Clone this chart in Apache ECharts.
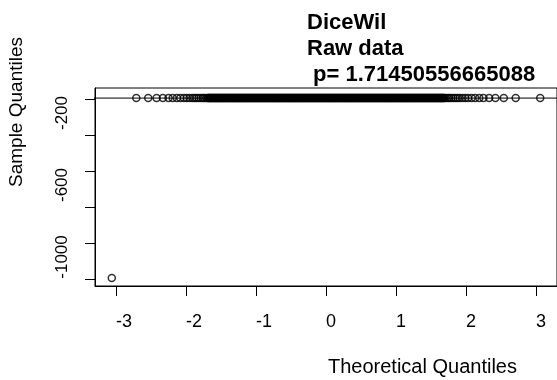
<!DOCTYPE html>
<html>
<head>
<meta charset="utf-8">
<script src="https://cdn.jsdelivr.net/npm/echarts@6/dist/echarts.min.js"></script>
<style>
html, body { margin: 0; padding: 0; background: #fff; }
#qq { width: 557px; height: 380px; }
</style>
</head>
<body>
<div id="qq"></div>
<script>
var chart_qq = echarts.init(document.getElementById('qq'));

// the one low point, bottom left
var outlierX = -3.06;
var outlierY = -1195;

// theoretical quantiles of the other points (all sit on the same sample value)
var tailLeftX = [-2.71, -2.54, -2.42, -2.33, -2.25, -2.19, -2.13, -2.08, -2.03, -1.99,
    -1.95, -1.91, -1.88, -1.85, -1.82, -1.79, -1.76, -1.74, -1.71];
var bandX = [
    -1.69, -1.68, -1.67, -1.66, -1.65, -1.64, -1.63, -1.62, -1.61, -1.60,
    -1.59, -1.58, -1.57, -1.56, -1.55, -1.54, -1.53, -1.52, -1.51, -1.50,
    -1.49, -1.48, -1.47, -1.46, -1.45, -1.44, -1.43, -1.42, -1.41, -1.40,
    -1.39, -1.38, -1.37, -1.36, -1.35, -1.34, -1.33, -1.32, -1.31, -1.30,
    -1.29, -1.28, -1.27, -1.26, -1.25, -1.24, -1.23, -1.22, -1.21, -1.20,
    -1.19, -1.18, -1.17, -1.16, -1.15, -1.14, -1.13, -1.12, -1.11, -1.10,
    -1.09, -1.08, -1.07, -1.06, -1.05, -1.04, -1.03, -1.02, -1.01, -1.00,
    -0.99, -0.98, -0.97, -0.96, -0.95, -0.94, -0.93, -0.92, -0.91, -0.90,
    -0.89, -0.88, -0.87, -0.86, -0.85, -0.84, -0.83, -0.82, -0.81, -0.80,
    -0.79, -0.78, -0.77, -0.76, -0.75, -0.74, -0.73, -0.72, -0.71, -0.70,
    -0.69, -0.68, -0.67, -0.66, -0.65, -0.64, -0.63, -0.62, -0.61, -0.60,
    -0.59, -0.58, -0.57, -0.56, -0.55, -0.54, -0.53, -0.52, -0.51, -0.50,
    -0.49, -0.48, -0.47, -0.46, -0.45, -0.44, -0.43, -0.42, -0.41, -0.40,
    -0.39, -0.38, -0.37, -0.36, -0.35, -0.34, -0.33, -0.32, -0.31, -0.30,
    -0.29, -0.28, -0.27, -0.26, -0.25, -0.24, -0.23, -0.22, -0.21, -0.20,
    -0.19, -0.18, -0.17, -0.16, -0.15, -0.14, -0.13, -0.12, -0.11, -0.10,
    -0.09, -0.08, -0.07, -0.06, -0.05, -0.04, -0.03, -0.02, -0.01, 0.00,
    0.01, 0.02, 0.03, 0.04, 0.05, 0.06, 0.07, 0.08, 0.09, 0.10,
    0.11, 0.12, 0.13, 0.14, 0.15, 0.16, 0.17, 0.18, 0.19, 0.20,
    0.21, 0.22, 0.23, 0.24, 0.25, 0.26, 0.27, 0.28, 0.29, 0.30,
    0.31, 0.32, 0.33, 0.34, 0.35, 0.36, 0.37, 0.38, 0.39, 0.40,
    0.41, 0.42, 0.43, 0.44, 0.45, 0.46, 0.47, 0.48, 0.49, 0.50,
    0.51, 0.52, 0.53, 0.54, 0.55, 0.56, 0.57, 0.58, 0.59, 0.60,
    0.61, 0.62, 0.63, 0.64, 0.65, 0.66, 0.67, 0.68, 0.69, 0.70,
    0.71, 0.72, 0.73, 0.74, 0.75, 0.76, 0.77, 0.78, 0.79, 0.80,
    0.81, 0.82, 0.83, 0.84, 0.85, 0.86, 0.87, 0.88, 0.89, 0.90,
    0.91, 0.92, 0.93, 0.94, 0.95, 0.96, 0.97, 0.98, 0.99, 1.00,
    1.01, 1.02, 1.03, 1.04, 1.05, 1.06, 1.07, 1.08, 1.09, 1.10,
    1.11, 1.12, 1.13, 1.14, 1.15, 1.16, 1.17, 1.18, 1.19, 1.20,
    1.21, 1.22, 1.23, 1.24, 1.25, 1.26, 1.27, 1.28, 1.29, 1.30,
    1.31, 1.32, 1.33, 1.34, 1.35, 1.36, 1.37, 1.38, 1.39, 1.40,
    1.41, 1.42, 1.43, 1.44, 1.45, 1.46, 1.47, 1.48, 1.49, 1.50,
    1.51, 1.52, 1.53, 1.54, 1.55, 1.56, 1.57, 1.58, 1.59, 1.60,
    1.61, 1.62, 1.63, 1.64, 1.65, 1.66, 1.67, 1.68, 1.69];
var tailRightX = [1.71, 1.74, 1.76, 1.79, 1.82, 1.85, 1.88, 1.91, 1.95, 1.99,
    2.03, 2.08, 2.13, 2.19, 2.25, 2.33, 2.42, 2.54, 2.71, 3.06];
var bulkY = -195;

// reference line through the quartiles
var qqLineX = [-3.4, 3.4];
var qqLineY = [-195, -195];

var xTicks = [-3, -2, -1, 0, 1, 2, 3];
var yTicks = [-1200, -1000, -800, -600, -400, -200];
var yTickLabels = [-1000, -600, -200];

var titleText = 'DiceWil\nRaw data\n p= 1.71450556665088';

var fontFam = '"Liberation Sans", Arial, sans-serif';

function qq_points() {
    var pts = [[outlierX, outlierY]];
    var allX = tailLeftX.concat(bandX, tailRightX);
    for (var i = 0; i < allX.length; i++) {
        pts.push([allX[i], bulkY]);
    }
    return pts;
}

function qq_line() {
    var pts = [];
    for (var i = 0; i < qqLineX.length; i++) {
        pts.push([qqLineX[i], qqLineY[i]]);
    }
    return pts;
}

var option_qq = {
    animation: false,
    backgroundColor: '#fff',
    title: {
        text: titleText,
        left: 307,
        top: 10,
        padding: 0,
        textStyle: {
            fontFamily: fontFam,
            fontSize: 22,
            fontWeight: 'bold',
            lineHeight: 26,
            color: '#000'
        }
    },
    grid: {
        left: 95,
        top: 88,
        right: -2,
        bottom: 94,
        show: true,
        borderColor: '#000',
        borderWidth: 1,
        backgroundColor: 'transparent'
    },
    xAxis: {
        type: 'value',
        min: -3.3,
        max: 3.3,
        axisLine: { show: true, onZero: false, lineStyle: { color: '#000', width: 1 } },
        axisTick: { show: true, length: 10, customValues: xTicks, lineStyle: { color: '#000' } },
        axisLabel: {
            customValues: xTicks,
            margin: 27,
            align: 'left',
            color: '#000',
            fontFamily: fontFam,
            fontSize: 18
        },
        splitLine: { show: false }
    },
    yAxis: {
        type: 'value',
        min: -1239,
        max: -139,
        axisLine: { show: true, onZero: false, lineStyle: { color: '#000', width: 1 } },
        axisTick: { show: true, length: 10, customValues: yTicks, lineStyle: { color: '#000' } },
        axisLabel: {
            customValues: yTickLabels,
            formatter: function (v) { return String(v); },
            rotate: 90,
            margin: 24,
            padding: [0, 28, 0, 0],
            color: '#000',
            fontFamily: fontFam,
            fontSize: 17
        },
        splitLine: { show: false }
    },
    graphic: [
        {
            type: 'text',
            x: 328,
            y: 357,
            style: {
                text: 'Theoretical Quantiles',
                fill: '#000',
                font: '20px ' + fontFam,
                align: 'left',
                verticalAlign: 'top'
            }
        },
        {
            type: 'text',
            x: 17,
            y: 112,
            rotation: Math.PI / 2,
            style: {
                text: 'Sample Quantiles',
                fill: '#000',
                font: '19px ' + fontFam,
                align: 'center',
                verticalAlign: 'middle'
            }
        }
    ],
    series: [
        {
            type: 'scatter',
            symbol: 'circle',
            symbolSize: 7,
            data: qq_points(),
            itemStyle: { color: 'rgba(0,0,0,0)', borderColor: '#000', borderWidth: 1.5 },
            emphasis: { disabled: true }
        },
        {
            type: 'line',
            data: qq_line(),
            showSymbol: false,
            clip: true,
            lineStyle: { color: '#000', width: 1 },
            emphasis: { disabled: true }
        }
    ]
};

chart_qq.setOption(option_qq);
</script>
</body>
</html>
